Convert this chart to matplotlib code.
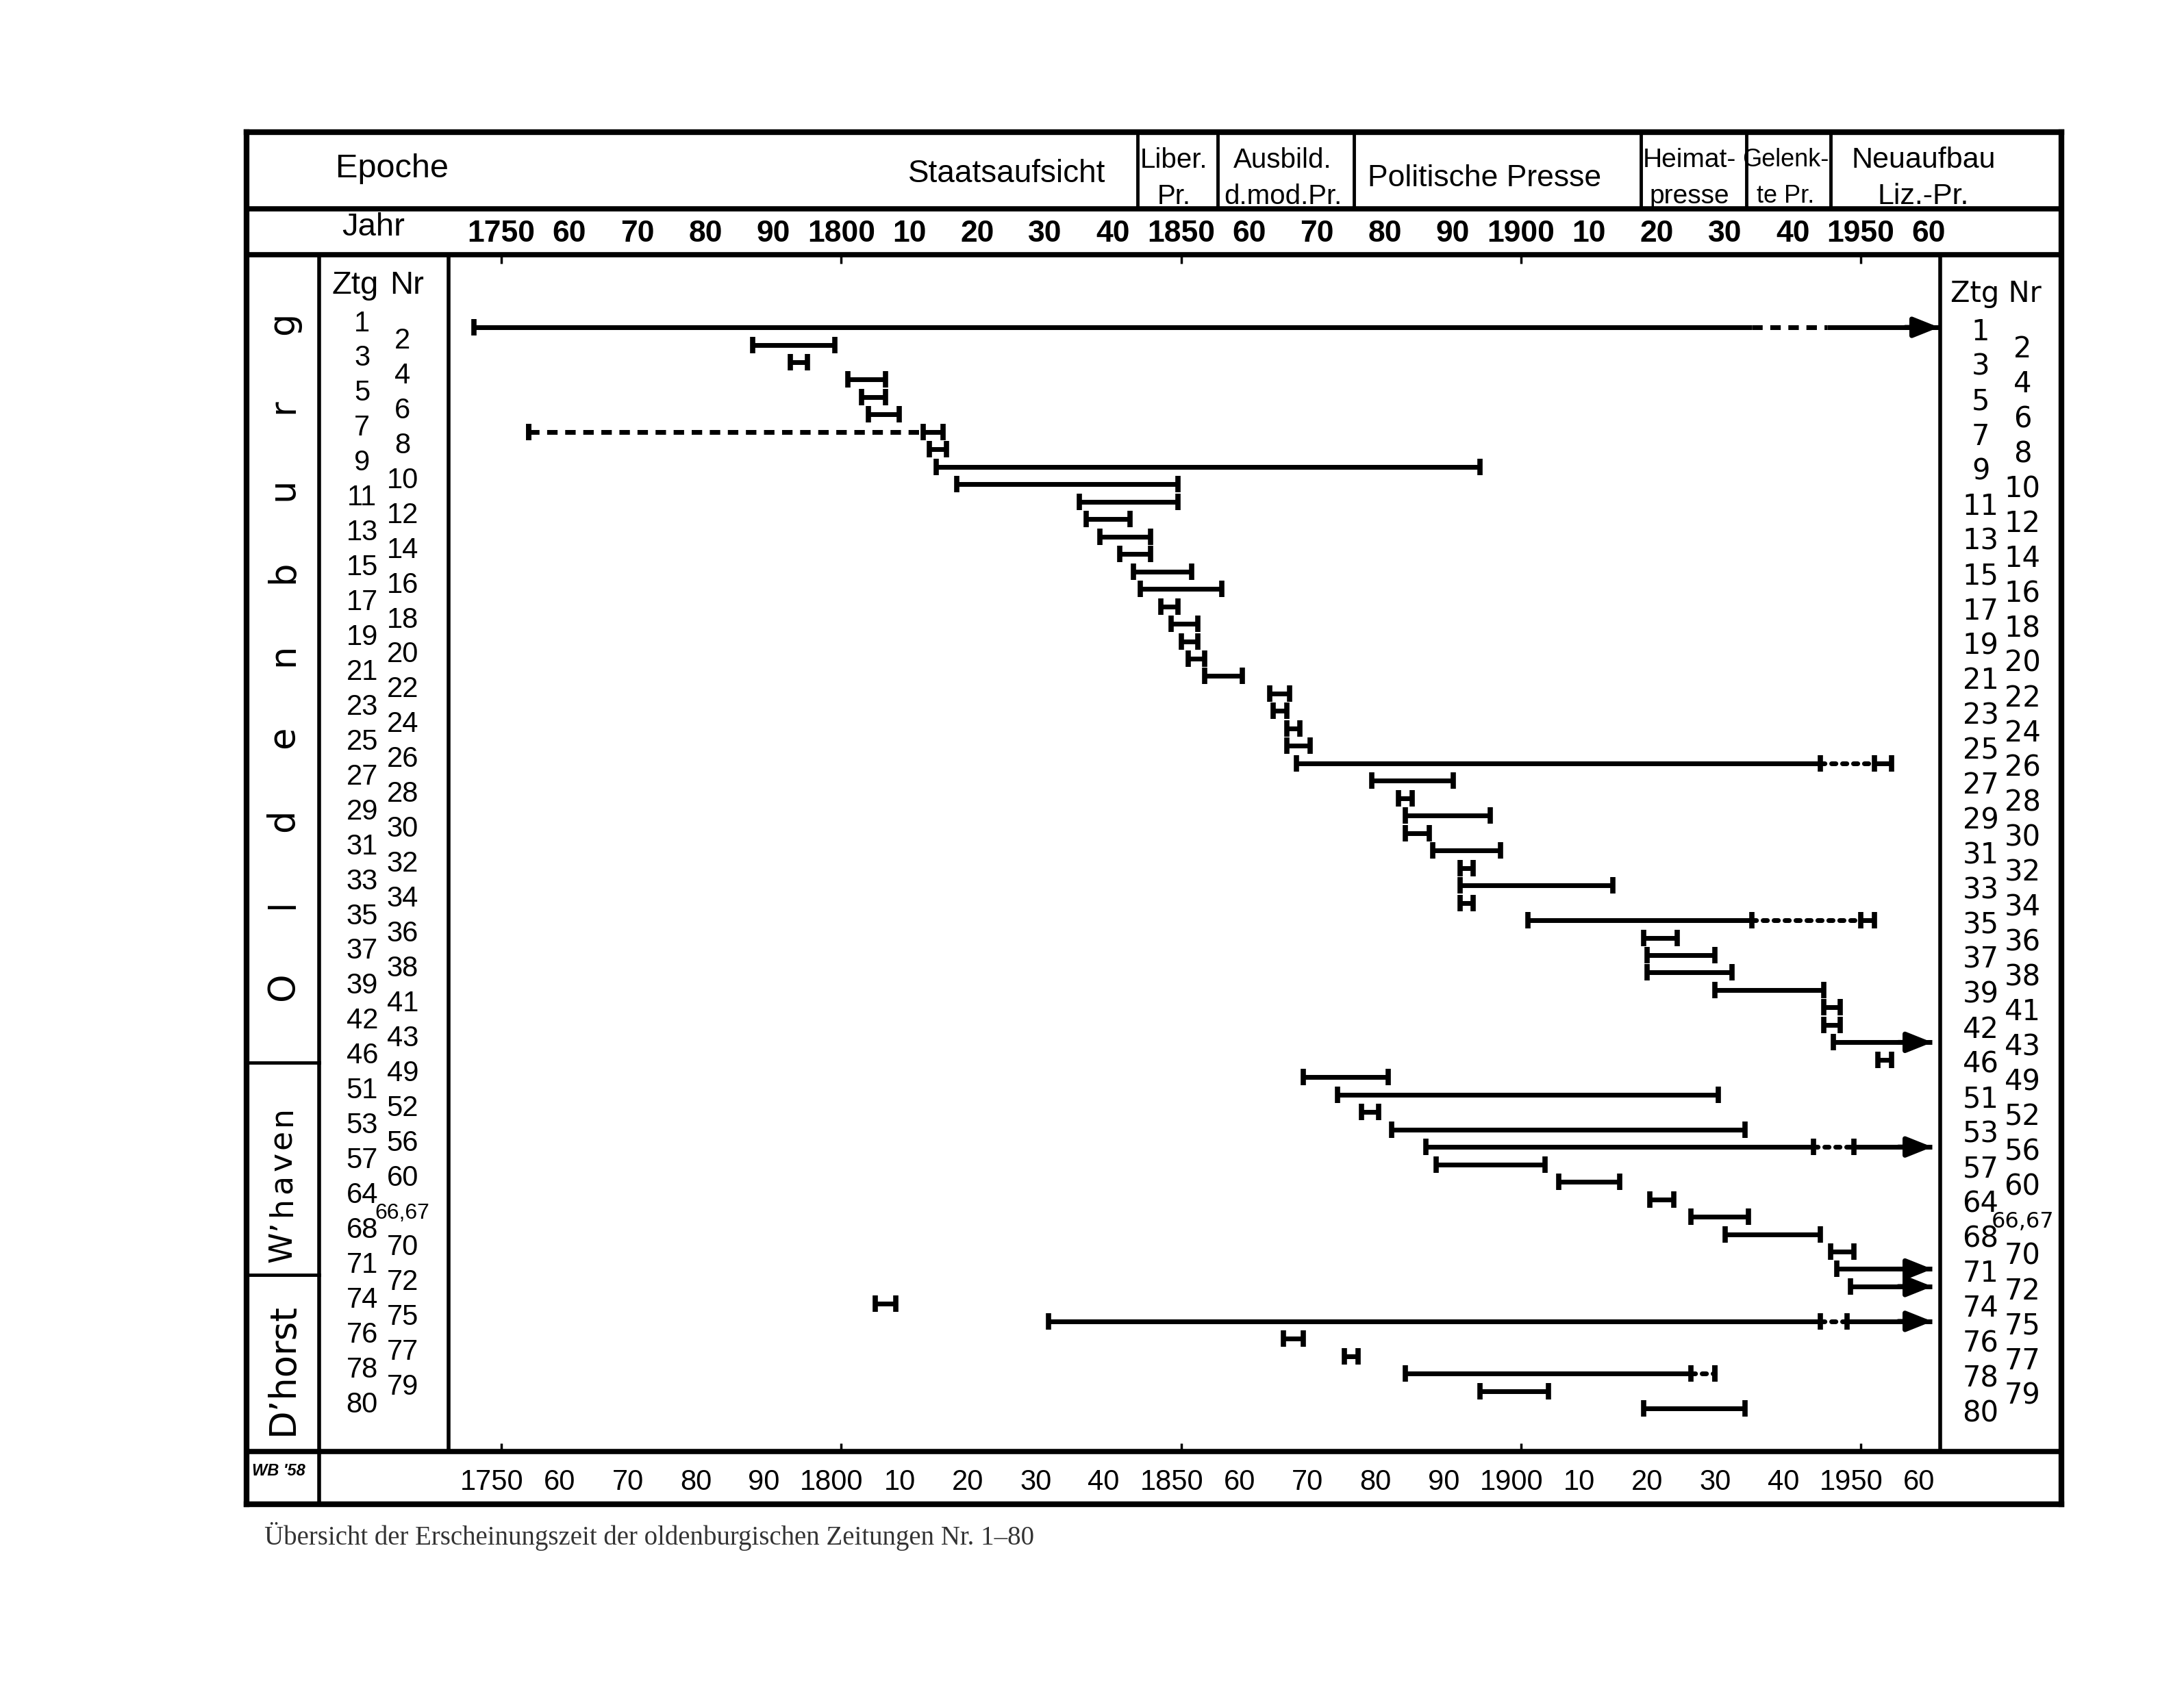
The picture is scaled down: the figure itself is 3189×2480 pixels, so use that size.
import matplotlib
matplotlib.use('Agg')
import matplotlib.pyplot as plt
import matplotlib.transforms as mtransforms
import numpy as np

plt.rcParams['font.family'] = ['Liberation Sans', 'DejaVu Sans']

# Zeitungen in der Reihenfolge der Zeilen
ztg_nr = ['1', '2', '3', '4', '5', '6', '7', '8', '9', '10',
          '11', '12', '13', '14', '15', '16', '17', '18', '19', '20',
          '21', '22', '23', '24', '25', '26', '27', '28', '29', '30',
          '31', '32', '33', '34', '35', '36', '37', '38', '39', '41',
          '42', '43', '46', '49', '51', '52', '53', '56', '57', '60',
          '64', '66,67', '68', '70', '71', '72', '74', '75', '76', '77',
          '78', '79', '80']
beginn = [1746, 1787, 1792.5, 1801, 1803, 1804, 1754, 1813, 1814, 1817,
          1835, 1836, 1838, 1841, 1843, 1844, 1847, 1848.5, 1850, 1851,
          1853.5, 1863, 1863.5, 1865.5, 1865.5, 1867, 1878, 1882, 1883, 1883,
          1887, 1891, 1891, 1891, 1901, 1918, 1918.5, 1918.5, 1928.5, 1944.5,
          1944.5, 1946, 1952.5, 1868, 1873, 1876.5, 1881, 1886, 1887.5, 1905.5,
          1919, 1925, 1930, 1945.5, 1946.5, 1948.5, 1805, 1830.5, 1865, 1874,
          1883, 1894, 1918]
ende = [1934, 1799, 1795, 1806.5, 1806.5, 1808.5, 1754, 1815.5, 1894, 1849.5,
        1849.5, 1842.5, 1845.5, 1845.5, 1851.5, 1856, 1849.5, 1852.5, 1852.5, 1853.5,
        1859, 1866, 1865.5, 1867.5, 1869, 1944, 1890, 1884, 1895.5, 1886.5,
        1897, 1893, 1913.5, 1893, 1934, 1923, 1928.5, 1931, 1944.5, 1947,
        1947, 1960.5, 1954.5, 1880.5, 1929, 1879, 1933, 1943, 1903.5, 1914.5,
        1922.5, 1933.5, 1944, 1949, 1960.5, 1960.5, 1808, 1944, 1868, 1876,
        1925, 1904, 1933]

# unsichere Zeitraeume (gestrichelt/punktiert) und Fortsetzung danach
luecke_nr = ['1', '7', '26', '35', '56', '75', '78']
luecke_bis = [1945, 1812, 1952, 1950, 1949, 1948, 1928.5]
luecke_stil = ['gestrichelt', 'gestrichelt', 'punktiert', 'punktiert',
               'punktiert', 'punktiert', 'punktiert']
luecke_kappen = [False, True, True, True, True, True, True]
weiter_bis = [1961.5, 1815, 1954.5, 1952, 1960.5, 1960.5, 1928.5]
pfeil_nr = ['1', '43', '56', '71', '72', '75']

# Kopfzeilen
jahre = list(range(1750, 1961, 10))
jahr_text = ['1750', '60', '70', '80', '90', '1800', '10', '20', '30', '40',
             '1850', '60', '70', '80', '90', '1900', '10', '20', '30', '40',
             '1950', '60']
epochen_grenzen = [1843.6, 1855.4, 1875.4, 1917.6, 1933.2, 1945.5]

fig = plt.figure(figsize=(31.89, 24.80), dpi=100)
bg = fig.add_axes([0, 0, 1, 1])
bg.set_xlim(0, 1568)
bg.set_ylim(1219, 0)
bg.axis('off')

ax = fig.add_axes([322 / 1568, 1 - 1042 / 1219, (1393 - 322) / 1568, (1042 - 183) / 1219])
ax.set_facecolor('none')
ax.set_xlim(1742.21, 1961.68)
ax.set_ylim(64.46, -4.153)
for s in ax.spines.values():
    s.set_visible(False)
ax.set_xticks([1750, 1800, 1850, 1900, 1950])
ax.set_yticks([])
ax.tick_params(axis='x', direction='in', top=True, bottom=True, length=9, width=2.5,
               labelbottom=False, labeltop=False)

jx = mtransforms.blended_transform_factory(ax.transData, bg.transData)
zy = mtransforms.blended_transform_factory(bg.transData, ax.transData)


def linie(x0, y0, x1, y1, lw, tr=None):
    bg.plot([x0, x1], [y0, y1], color='k', lw=lw, solid_capstyle='projecting',
            transform=tr if tr is not None else bg.transData, clip_on=False)


# Rahmen
linie(177, 95, 1480, 95, 6)
linie(177, 1080, 1480, 1080, 6)
linie(177, 95, 177, 1080, 6)
linie(1480, 95, 1480, 1080, 6)
for yy in [150, 183, 1042]:
    linie(177, yy, 1480, yy, 5.5)
linie(229, 183, 229, 1080, 4)
linie(322, 183, 322, 1042, 4)
linie(1393, 183, 1393, 1042, 4)
linie(177, 763, 229, 763, 3.5)
linie(177, 915, 229, 915, 3.5)
for g in epochen_grenzen:
    linie(g, 95, g, 150, 3.5, jx)

# Epoche-Zeile
bg.text(241, 121, 'Epoche', fontsize=35, ha='left', va='center')
bg.text(723, 125, 'Staatsaufsicht', fontsize=33, ha='center', va='center')
bg.text(1066, 128, 'Politische Presse', fontsize=32, ha='center', va='center')
zwei = [(843, 'Liber.', 'Pr.', 29), (921, 'Ausbild.', 'd.mod.Pr.', 29),
        (1213, 'Heimat-', 'presse', 28), (1282, 'Gelenk-', 'te Pr.', 26),
        (1381, 'Neuaufbau', 'Liz.-Pr.', 31)]
for xx, a, b, fs in zwei:
    bg.text(xx, 115, a, fontsize=fs, ha='center', va='center')
    bg.text(xx, 141, b, fontsize=fs, ha='center', va='center')

# Jahr-Zeile und Fusszeile
bg.text(268, 163, 'Jahr', fontsize=34, ha='center', va='center')
unten = mtransforms.offset_copy(jx, fig=fig, x=-10, units='points')
for j, t in zip(jahre, jahr_text):
    bg.text(j, 168, t, fontsize=32, ha='center', va='center', transform=jx,
            fontweight='bold')
    bg.text(j, 1064, t, fontsize=30, ha='center', va='center', transform=unten)
bg.text(200, 1056, "WB '58", fontsize=17, fontweight='bold', fontstyle='italic',
        ha='center', va='center')

# Spalte links: Orte
for buchst, yy in zip('Oldenburg', np.linspace(708, 232, 9)):
    bg.text(203, yy, buchst, fontsize=38, rotation=90, ha='center', va='center',
            family='DejaVu Sans')
for buchst, yy in zip('W’haven', [895, 879, 866, 850, 834, 818, 801]):
    bg.text(203, yy, buchst, fontsize=33, rotation=90, ha='center', va='center',
            family='DejaVu Sans')
bg.text(203, 983, 'D’horst', fontsize=38, rotation=90, ha='center', va='center',
        family='DejaVu Sans')

# Ztg Nr Spalten
bg.text(255, 205, 'Ztg', fontsize=34, ha='center', va='center')
bg.text(292, 205, 'Nr', fontsize=34, ha='center', va='center')
bg.text(1433, 211, 'Ztg Nr', fontsize=30, ha='center', va='center', family='DejaVu Sans')
links = mtransforms.offset_copy(zy, fig=fig, y=4, units='points')
rechts = mtransforms.offset_copy(zy, fig=fig, y=-5, units='points')
for i, nr in enumerate(ztg_nr):
    fs = 23 if ',' in nr else 30
    bg.text(260 if i % 2 == 0 else 289, i, nr, fontsize=fs, ha='center', va='center',
            transform=links)
    bg.text(1422 if i % 2 == 0 else 1452, i, nr, fontsize=fs, ha='center', va='center',
            transform=rechts, family='DejaVu Sans')

# Balken
LW = 5
for i, nr in enumerate(ztg_nr):
    kappen = [beginn[i], ende[i]]
    ax.plot([beginn[i], ende[i]], [i, i], color='k', lw=LW, solid_capstyle='butt')
    endpunkt = ende[i]
    if nr in luecke_nr:
        k = luecke_nr.index(nr)
        if luecke_stil[k] == 'gestrichelt':
            ax.plot([ende[i], luecke_bis[k]], [i, i], color='k', lw=LW,
                    linestyle=(0, (2.2, 1.6)), dash_capstyle='butt')
        else:
            ax.plot([ende[i], luecke_bis[k]], [i, i], color='k', lw=LW,
                    linestyle=(0, (0.9, 1.4)), dash_capstyle='round')
        ax.plot([luecke_bis[k], weiter_bis[k]], [i, i], color='k', lw=LW,
                solid_capstyle='butt')
        if luecke_kappen[k]:
            kappen += [luecke_bis[k], weiter_bis[k]]
        else:
            kappen = [beginn[i], weiter_bis[k]]
        endpunkt = weiter_bis[k]
    if nr in pfeil_nr:
        kappen = kappen[:-1]
        ax.annotate('', xy=(endpunkt, i), xytext=(endpunkt - 5, i),
                    arrowprops=dict(arrowstyle='-|>,head_length=0.55,head_width=0.22',
                                    mutation_scale=40, color='k', lw=LW,
                                    shrinkA=0, shrinkB=0),
                    annotation_clip=False)
    ax.plot(kappen, [i] * len(kappen), linestyle='none', marker='|', ms=17, mew=5.5,
            color='k')

fig.text(190 / 1568, 1 - 1103 / 1219,
         'Übersicht der Erscheinungszeit der oldenburgischen Zeitungen Nr. 1–80',
         fontsize=28, family=['Liberation Serif', 'DejaVu Serif'], color='#333333',
         ha='left', va='center')

fig.savefig('out.png', dpi=100, facecolor='white')
